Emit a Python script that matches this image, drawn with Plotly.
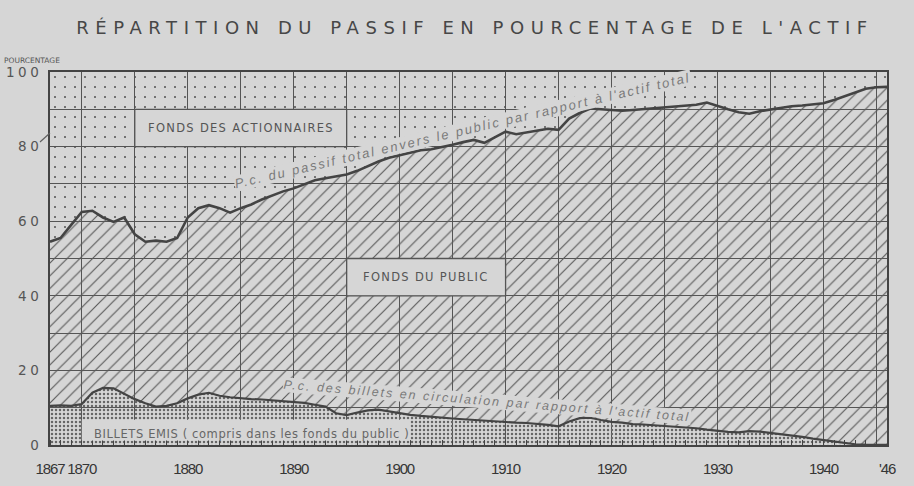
import plotly.graph_objects as go

# ---------------- data ----------------
years = list(range(1867, 1947))

# % of total liabilities owed to the public (upper curve)
passif_public = [
    54.5, 55.5, 59.0, 62.5, 62.8, 61.0, 59.8, 61.0, 56.5, 54.5,   # 1867-1876
    54.8, 54.5, 55.5, 61.0, 63.5, 64.3, 63.5, 62.3, 63.5, 64.5,   # 1877-1886
    65.8, 67.0, 68.0, 68.8, 69.8, 71.0, 71.5, 72.0, 72.5, 73.5,   # 1887-1896
    74.8, 76.0, 77.0, 77.7, 78.3, 79.0, 79.3, 79.8, 80.5, 81.2,   # 1897-1906
    81.8, 81.0, 82.5, 84.0, 83.3, 83.8, 84.5, 84.8, 84.5, 87.5,   # 1907-1916
    89.0, 90.2, 90.0, 89.8, 89.6, 89.8, 90.0, 90.2, 90.5, 90.8,   # 1917-1926
    91.0, 91.2, 91.8, 90.8, 90.0, 89.2, 88.8, 89.5, 90.0, 90.5,   # 1927-1936
    90.8, 91.0, 91.3, 91.6, 92.5, 93.5, 94.5, 95.5, 95.9, 96.0,   # 1937-1946
]

# % of bank notes in circulation relative to total assets (lower curve)
billets = [
    10.5, 10.6, 10.5, 11.0, 14.0, 15.3, 15.2, 13.8, 12.3, 11.2,   # 1867-1876
    10.3, 10.5, 11.2, 12.5, 13.5, 14.0, 13.2, 12.8, 12.5, 12.3,   # 1877-1886
    12.2, 12.0, 11.8, 11.7, 11.3, 10.8, 10.3, 8.5, 8.0, 8.7,      # 1887-1896
    9.3, 9.5, 9.0, 8.4, 8.1, 7.8, 7.5, 7.3, 7.1, 6.9,             # 1897-1906
    6.7, 6.5, 6.2, 6.0, 6.0, 5.9, 5.7, 5.4, 5.0, 6.3,             # 1907-1916
    7.2, 7.3, 6.7, 6.2, 6.0, 5.6, 5.5, 5.3, 5.0, 4.8,             # 1917-1926
    4.6, 4.5, 4.1, 3.7, 3.5, 3.4, 3.7, 3.6, 3.3, 3.0,             # 1927-1936
    2.6, 2.2, 1.7, 1.3, 0.9, 0.5, 0.2, 0.1, 0.05, 0.05,           # 1937-1946
]

TOTAL = 100
total_actif = [TOTAL for _ in years]

x_tick_vals = [1867, 1870, 1875, 1880, 1885, 1890, 1895, 1900, 1905, 1910,
               1915, 1920, 1925, 1930, 1935, 1940, 1945, 1946]
x_tick_text = ["1867", "1870", "", "1880", "", "1890", "", "1900", "", "1910",
               "", "1920", "", "1930", "", "1940", "", "'46"]
y_tick_vals = [0, 10, 20, 30, 40, 50, 60, 70, 80, 90, 100]
y_tick_text = ["0", "", "20", "", "40", "", "60", "", "80", "", "100"]

TITLE = "RÉPARTITION DU PASSIF EN POURCENTAGE DE L'ACTIF"
LBL_ACTION = "FONDS DES ACTIONNAIRES"
LBL_PUBLIC = "FONDS DU PUBLIC"
LBL_BILLETS = "BILLETS EMIS ( compris dans les fonds du public )"
LBL_TOP = "P.c. du passif total envers le public par rapport à l'actif total"
LBL_BOT = "P.c. des billets en circulation par rapport à l'actif total"
Y_LABEL = "POURCENTAGE"

# ---------------- style ----------------
BG = "#d6d6d6"
INK = "#444444"
GRID = "#555555"
LIGHT_TXT = "#7a7a7a"
CLEAR = "rgba(0,0,0,0)"


def spaced(txt, px):
    return f'<span style="letter-spacing:{px}px">{txt}</span>'


fig = go.Figure()

fig.add_trace(go.Scatter(
    x=years, y=billets, mode="lines", fill="tozeroy", fillcolor=CLEAR,
    line=dict(color=INK, width=2.2),
    fillpattern=dict(shape=".", size=4, solidity=0.3, fgcolor="#666666",
                     bgcolor=CLEAR, fillmode="replace"),
    hoverinfo="skip", showlegend=False,
))
fig.add_trace(go.Scatter(
    x=years, y=passif_public, mode="lines", fill="tonexty", fillcolor=CLEAR,
    line=dict(color=INK, width=2.6),
    fillpattern=dict(shape="/", size=9, solidity=0.13, fgcolor="#5a5a5a",
                     bgcolor=CLEAR, fillmode="replace"),
    hoverinfo="skip", showlegend=False,
))
fig.add_trace(go.Scatter(
    x=years, y=total_actif, mode="lines", fill="tonexty", fillcolor=CLEAR,
    line=dict(color=INK, width=0),
    fillpattern=dict(shape=".", size=10, solidity=0.03, fgcolor="#505050",
                     bgcolor=CLEAR, fillmode="replace"),
    hoverinfo="skip", showlegend=False,
))

# label boxes (blank panels over the grid)
box_style = dict(type="rect", xref="x", yref="y", fillcolor=BG,
                 line=dict(color=GRID, width=1.3), layer="above")
fig.add_shape(x0=1875, x1=1895, y0=80, y1=90, **box_style)
fig.add_shape(x0=1895, x1=1910, y0=40, y1=50, **box_style)
fig.add_shape(type="rect", xref="x", yref="y", x0=1870, x1=1901, y0=1.2, y1=6.8,
              fillcolor=BG, line=dict(width=0), layer="above")
# small leader stroke at the left axis
fig.add_shape(type="line", xref="paper", yref="paper",
              x0=-10 / 837, y0=(445 - 142) / 373, x1=0, y1=(445 - 133) / 373,
              line=dict(color="#606060", width=1.2))

lab_font = dict(family="DejaVu Sans", size=11.5, color="#555555")
fig.add_annotation(x=1885, y=85, text=spaced(LBL_ACTION, 1.3),
                   showarrow=False, font=lab_font)
fig.add_annotation(x=1902.5, y=45, text=spaced(LBL_PUBLIC, 1.3),
                   showarrow=False, font=lab_font)
fig.add_annotation(x=1886, y=3.0, text=spaced(LBL_BILLETS, 0.6),
                   showarrow=False, font=dict(family="DejaVu Sans", size=11.5, color="#666666"))

fig.add_annotation(x=1906, y=84.2, text=f"<i>{spaced(LBL_TOP, 2.0)}</i>", textangle=-13.2,
                   showarrow=False, font=dict(family="Liberation Sans", size=13, color=LIGHT_TXT),
                   bgcolor=BG, borderpad=0)
fig.add_annotation(x=1908.2, y=11.7, text=f"<i>{spaced(LBL_BOT, 2.0)}</i>", textangle=4.6,
                   showarrow=False, font=dict(family="Liberation Sans", size=12.5, color=LIGHT_TXT),
                   bgcolor=BG, borderpad=0)

# y axis caption at the top-left corner
fig.add_annotation(xref="paper", yref="paper", x=(2 - 50) / 837, y=(445 - 61) / 373,
                   xanchor="left", yanchor="middle", text=Y_LABEL, showarrow=False,
                   font=dict(family="DejaVu Sans", size=7.5, color="#555555"))

fig.update_layout(
    width=914, height=486,
    paper_bgcolor=BG, plot_bgcolor=BG,
    margin=dict(l=50, r=27, t=72, b=41, autoexpand=False),
    title=dict(text=spaced(TITLE, 6.55),
               x=475 / 914, xanchor="center", xref="container",
               y=1 - 28 / 486, yanchor="middle", yref="container",
               font=dict(family="DejaVu Sans", size=18, color="#474747")),
    showlegend=False,
)
fig.update_xaxes(
    range=[1867, 1946], tickvals=x_tick_vals,
    ticktext=[spaced(t, -1.1) for t in x_tick_text],
    showgrid=True, gridcolor=GRID, gridwidth=1.3, zeroline=False,
    showline=True, linecolor=INK, linewidth=2, mirror=True, automargin=False,
    ticks="", tickangle=0, ticklabelstandoff=9,
    tickfont=dict(family="Liberation Sans", size=15, color="#353535"),
    minor=dict(ticks="inside", dtick=1, tick0=1867, ticklen=5, tickcolor=INK,
               tickwidth=1, showgrid=False),
)
fig.update_yaxes(
    range=[0, 100], tickvals=y_tick_vals,
    ticktext=[spaced(t, 3.5) for t in y_tick_text],
    showgrid=True, gridcolor=GRID, gridwidth=1.3, zeroline=False,
    showline=True, linecolor=INK, linewidth=2, mirror=True, automargin=False,
    ticks="", ticklabelstandoff=3,
    tickfont=dict(family="DejaVu Sans", size=13.5, color="#555555"),
)

fig.write_html("out.html", config={"displayModeBar": False},
               post_script="document.body.style.margin='0';document.body.style.background='#d6d6d6';")
